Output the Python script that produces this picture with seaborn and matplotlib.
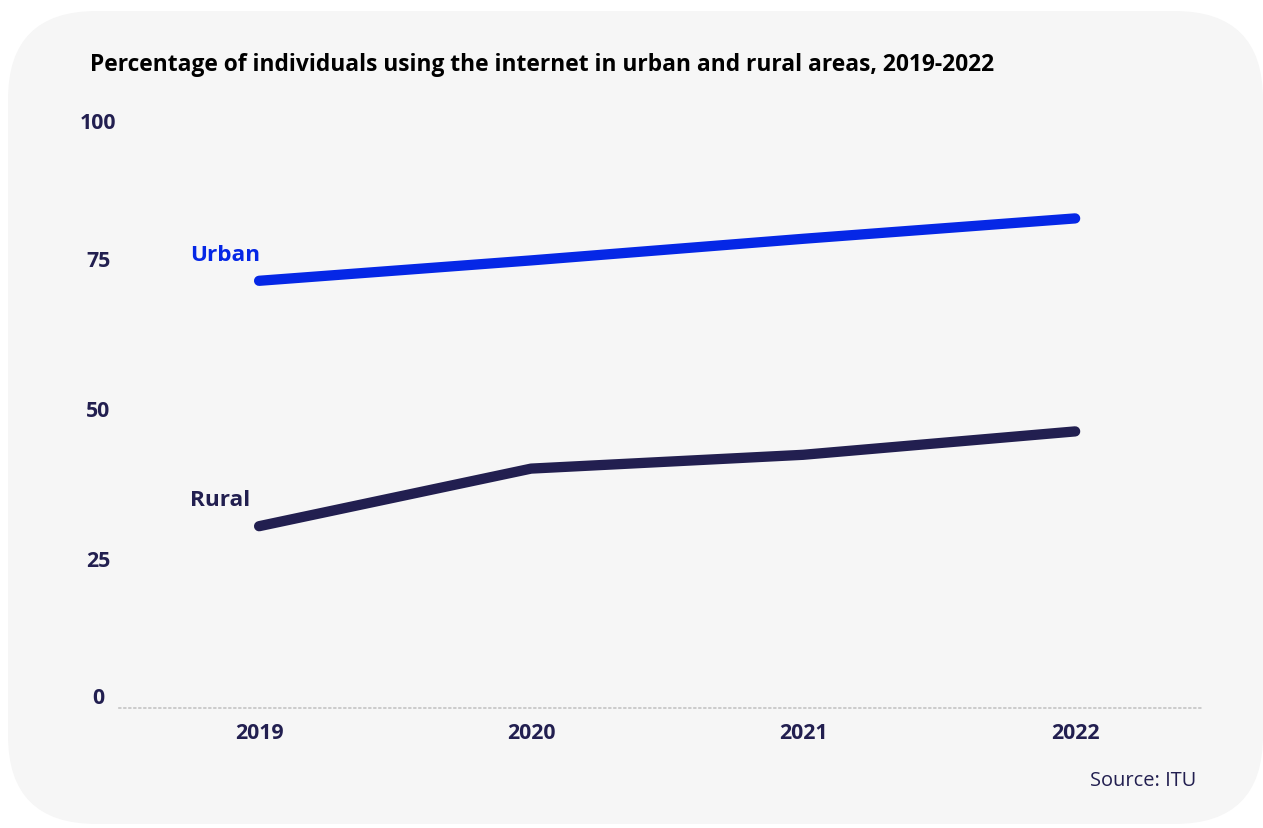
import pandas as pd
import numpy as np
import matplotlib.pyplot as plt
import matplotlib.transforms as mtransforms
import seaborn as sns
from matplotlib.patches import FancyBboxPatch

years = [2019, 2020, 2021, 2022]
urban = [71.2, 74.6, 78.2, 81.6]
rural = [30.3, 39.9, 42.2, 46.1]
yticks = [0, 25, 50, 75, 100]

df = pd.DataFrame({
    "Year": years * 2,
    "Value": urban + rural,
    "Area": ["Urban"] * 4 + ["Rural"] * 4,
})

sns.set_style("white")
plt.rcParams['font.family'] = ['Open Sans', 'DejaVu Sans']

navy = "#221f50"
blue = "#0527e6"

fig = plt.figure(figsize=(12.63, 8.29), dpi=100)
fig.patch.set_facecolor("white")

# rounded card background
card = FancyBboxPatch((8 / 1263, 4 / 829), 1 - 8 / 1263, 1 - 16 / 829,
                      boxstyle="round,pad=0,rounding_size=0.07",
                      transform=fig.transFigure, facecolor="#f6f6f6",
                      edgecolor="none", mutation_aspect=1263 / 829, zorder=-10)
fig.patches.append(card)

ax = fig.add_axes([119 / 1263, 120 / 829, 1084 / 1263, 600 / 829])
ax.set_facecolor("none")
ax.set_zorder(5)

sns.lineplot(data=df, x="Year", y="Value", hue="Area",
             palette={"Urban": blue, "Rural": navy},
             linewidth=7.4, legend=False, ax=ax,
             solid_capstyle="round", solid_joinstyle="round")

ax.set_xlim(2018.485, 2022.47)
ax.set_ylim(0, 100)
ax.set_xticks(years)
ax.set_xticklabels([str(y) for y in years])
ax.set_yticks(yticks)
ax.set_yticklabels([str(v) for v in yticks])
ax.set_xlabel("")
ax.set_ylabel("")

ax.tick_params(axis="x", length=0, pad=10, labelsize=15.3, labelcolor=navy)
ax.tick_params(axis="y", length=0, pad=15, labelsize=15.3, labelcolor=navy)
for lab in ax.get_xticklabels():
    lab.set_fontweight("bold")
for lab in ax.get_yticklabels():
    lab.set_fontweight("bold")
    lab.set_horizontalalignment("center")
ylabs = ax.get_yticklabels()
ylabs[0].set_verticalalignment("bottom")
ylabs[-1].set_verticalalignment("top")
ylabs[-1].set_transform(ylabs[-1].get_transform() +
                        mtransforms.ScaledTranslation(0, -4 / 100, fig.dpi_scale_trans))

for s in ["top", "right", "left"]:
    ax.spines[s].set_visible(False)
ax.spines["bottom"].set_color("#c4c4c4")
ax.spines["bottom"].set_linewidth(1.2)
ax.spines["bottom"].set_linestyle((0, (1, 2)))

ax.text(years[0] - 0.254, urban[0] + 4.3, "Urban", color=blue, fontsize=16.2,
        fontweight="bold", ha="left", va="center")
ax.text(years[0] - 0.254, rural[0] + 4.4, "Rural", color=navy, fontsize=16.2,
        fontweight="bold", ha="left", va="center")

fig.text(90 / 1263, 1 - 65 / 829,
         "Percentage of individuals using the internet in urban and rural areas, 2019-2022",
         fontsize=16.4, fontweight="bold", color="black", ha="left", va="center")
fig.text(1196 / 1263, 1 - 781 / 829, "Source: ITU", fontsize=14.4,
         color=navy, ha="right", va="center")

plt.savefig("out.png", dpi=100, facecolor=fig.get_facecolor())
